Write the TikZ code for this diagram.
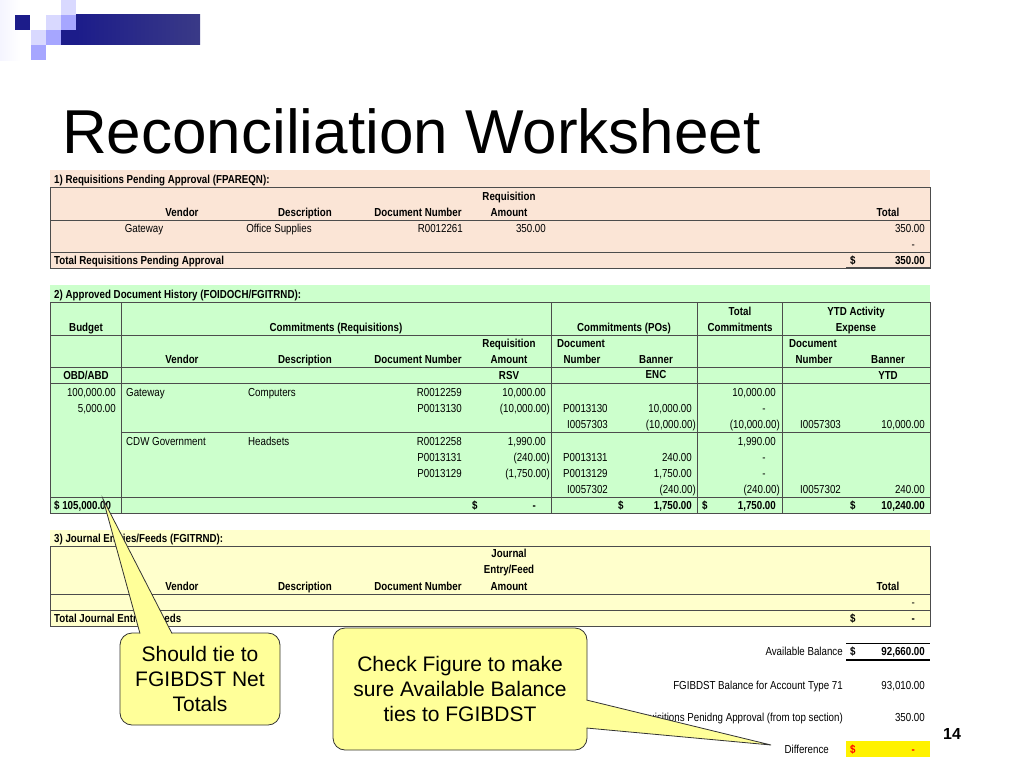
\documentclass[tikz,border=0pt]{standalone}
\usepackage{fontspec}
\setmainfont{Liberation Sans}
\newfontfamily\nar[FakeStretch=0.84]{Liberation Sans}
\usetikzlibrary{shapes.geometric}
\definecolor{pinkbg}{HTML}{FBE5D6}
\definecolor{greenbg}{HTML}{CCFFCC}
\definecolor{yelbg}{HTML}{FFFFCC}
\definecolor{callout}{HTML}{FFFF99}
\definecolor{navy}{HTML}{1C1C8A}
\newcommand\tL[3]{\node[tx,anchor=mid west] at (#1,#2){#3};}
\newcommand\tR[3]{\node[tx,anchor=mid east] at (#1,#2){#3};}
\newcommand\tC[3]{\node[tx,anchor=mid] at (#1,#2){#3};}
\begin{document}
\begin{tikzpicture}[x=1pt,y=-1pt,
 tx/.style={inner sep=0pt,yshift=-1.5pt,font=\nar\fontsize{11.6}{12}\selectfont},
 rl/.style={line width=0.6pt,black!70},
 co/.style={fill=callout,draw=black!80,line width=0.8pt,rounded corners=12pt},
 ct/.style={align=center,font=\fontsize{21}{25}\selectfont}]
\useasboundingbox (0,0) rectangle (1024,768);
% logo
\shade[left color=white!80!blue!20,right color=white] (0,0) rectangle (20,60);
\fill[navy] (15,15) rectangle (30,30);
\fill[blue!15!white] (46,15) rectangle (61,30);
\fill[blue!35!white] (61,15) rectangle (76,30);
\fill[blue!15!white] (61,0) rectangle (76,15);
\fill[blue!15!white] (31,30) rectangle (46,45);
\fill[blue!35!white] (46,30) rectangle (61,45);
\fill[blue!35!white] (31,45) rectangle (46,60);
\shade[left color=navy,right color=navy!70!gray] (76,15) rectangle (200,45);
\fill[navy] (61,30) rectangle (76,45);
% title
\node[anchor=base west,inner sep=0pt,font=\fontsize{62}{66}\selectfont] at (62,153) {Reconciliation Worksheet};
% ===== section 1
\fill[pinkbg] (50,170) rectangle (930,268);
\tL{54}{179}{\bfseries 1) Requisitions Pending Approval (FPAREQN):}
\draw[rl] (50,187) rectangle (930,268);
\draw[rl] (50,220)--(930,220) (50,252)--(930,252);
\tC{509}{196}{\bfseries Requisition}
\tC{182}{212}{\bfseries Vendor}\tC{305}{212}{\bfseries Description}\tC{418}{212}{\bfseries Document Number}\tC{509}{212}{\bfseries Amount}\tC{888}{212}{\bfseries Total}
\tC{144}{228}{Gateway}\tC{279}{228}{Office Supplies}\tR{463}{228}{R0012261}\tR{546}{228}{350.00}\tR{925}{228}{350.00}
\tR{915}{244}{-}
\tL{54}{260}{\bfseries Total Requisitions Pending Approval}\tL{850}{260}{\bfseries \$}\tR{925}{260}{\bfseries 350.00}
\draw[rl] (846,267)--(930,267);
% ===== section 2
\fill[greenbg] (50,285) rectangle (930,513);
\tL{54}{294}{\bfseries 2) Approved Document History (FOIDOCH/FGITRND):}
\draw[rl] (50,302) rectangle (930,513);
\draw[rl] (50,335)--(930,335) (50,367)--(930,367) (50,383)--(930,383) (121,432)--(930,432) (50,497)--(930,497);
\draw[rl] (121,302)--(121,513) (551,302)--(551,513) (697,302)--(697,513) (782,302)--(782,513);
\tC{740}{311}{\bfseries Total}\tC{856}{311}{\bfseries YTD Activity}
\tC{86}{327}{\bfseries Budget}\tC{336}{327}{\bfseries Commitments (Requisitions)}\tC{624}{327}{\bfseries Commitments (POs)}\tC{740}{327}{\bfseries Commitments}\tC{856}{327}{\bfseries Expense}
\tC{509}{343}{\bfseries Requisition}\tL{557}{343}{\bfseries Document}\tL{789}{343}{\bfseries Document}
\tC{182}{359}{\bfseries Vendor}\tC{305}{359}{\bfseries Description}\tC{418}{359}{\bfseries Document Number}\tC{509}{359}{\bfseries Amount}\tC{582}{359}{\bfseries Number}\tC{656}{359}{\bfseries Banner}\tC{814}{359}{\bfseries Number}\tC{888}{359}{\bfseries Banner}
\tC{86}{375}{\bfseries OBD/ABD}\tC{509}{375}{\bfseries RSV}\tC{656}{374}{\bfseries ENC}\tC{888}{375}{\bfseries YTD}
\tR{116}{392}{100,000.00}\tL{126}{392}{Gateway}\tL{248}{392}{Computers}\tR{462}{392}{R0012259}\tR{546}{392}{10,000.00}\tR{776}{392}{10,000.00}
\tR{116}{408}{5,000.00}\tR{462}{408}{P0013130}\tR{550}{408}{(10,000.00)}\tL{563}{408}{P0013130}\tR{692}{408}{10,000.00}\tC{764}{408}{-}
\tL{567}{424}{I0057303}\tR{696}{424}{(10,000.00)}\tR{780}{424}{(10,000.00)}\tL{800}{424}{I0057303}\tR{925}{424}{10,000.00}
\tL{126}{441}{CDW Government}\tL{248}{441}{Headsets}\tR{462}{441}{R0012258}\tR{546}{441}{1,990.00}\tR{776}{441}{1,990.00}
\tR{462}{457}{P0013131}\tR{550}{457}{(240.00)}\tL{563}{457}{P0013131}\tR{692}{457}{240.00}\tC{764}{457}{-}
\tR{462}{473}{P0013129}\tR{550}{473}{(1,750.00)}\tL{563}{473}{P0013129}\tR{692}{473}{1,750.00}\tC{764}{473}{-}
\tL{567}{489}{I0057302}\tR{696}{489}{(240.00)}\tR{780}{489}{(240.00)}\tL{800}{489}{I0057302}\tR{925}{489}{240.00}
\tL{54}{505}{\bfseries \$ 105,000.00}\tL{472}{505}{\bfseries \$}\tR{536}{505}{\bfseries -}\tL{618}{505}{\bfseries \$}\tR{692}{505}{\bfseries 1,750.00}\tL{702}{505}{\bfseries \$}\tR{776}{505}{\bfseries 1,750.00}\tL{850}{505}{\bfseries \$}\tR{925}{505}{\bfseries 10,240.00}
% ===== section 3
\fill[yelbg] (50,530) rectangle (930,626);
\tL{54}{538}{\bfseries 3) Journal Entries/Feeds (FGITRND):}
\draw[rl] (50,546) rectangle (930,626);
\draw[rl] (50,594)--(930,594) (50,610)--(930,610);
\tC{509}{553}{\bfseries Journal}\tC{509}{569}{\bfseries Entry/Feed}
\tC{182}{586}{\bfseries Vendor}\tC{305}{586}{\bfseries Description}\tC{418}{586}{\bfseries Document Number}\tC{509}{586}{\bfseries Amount}\tC{888}{586}{\bfseries Total}
\tR{915}{602}{-}
\tL{54}{618}{\bfseries Total Journal Entries/Feeds}\tL{850}{618}{\bfseries \$}\tR{915}{618}{\bfseries -}
% ===== bottom
\draw[line width=0.8pt] (846,643)--(930,643);
\draw[line width=1.5pt] (846,660)--(930,660);
\tR{843}{651}{Available Balance}\tL{850}{651}{\bfseries \$}\tR{925}{651}{\bfseries 92,660.00}
\tR{843}{685}{FGIBDST Balance for Account Type 71}\tR{925}{685}{93,010.00}
\tR{843}{717}{Requisitions Penidng Approval (from top section)}\tR{925}{717}{350.00}
\fill[yellow] (846,741) rectangle (930,757);
\tR{829}{749}{Difference}\node[tx,anchor=mid west,text=red] at (850,749){\bfseries \$};\node[tx,anchor=mid east,text=red] at (915,749){\bfseries -};
\node[anchor=mid,inner sep=0pt,font=\bfseries\fontsize{16}{18}\selectfont] at (952,737) {14};
% ===== callouts
\coordinate (p1) at (103,499);
\coordinate (p2) at (771,745);
\node[co,minimum width=160pt,minimum height=92pt,ct] (c1) at (200,679) {Should tie to\\FGIBDST Net\\Totals};
\node[co,minimum width=254pt,minimum height=122pt,ct] (c2) at (460,689) {Check Figure to make\\sure Available Balance\\ties to FGIBDST};
\fill[callout] (140,634)--(p1)--(172,634)--cycle;
\draw[black!80,line width=0.8pt] (140,633.5)--(p1)--(172,633.5);
\fill[callout] (586,700)--(p2)--(586,728)--cycle;
\draw[black!80,line width=0.8pt] (586.5,700)--(p2)--(586.5,728);
\end{tikzpicture}
\end{document}
